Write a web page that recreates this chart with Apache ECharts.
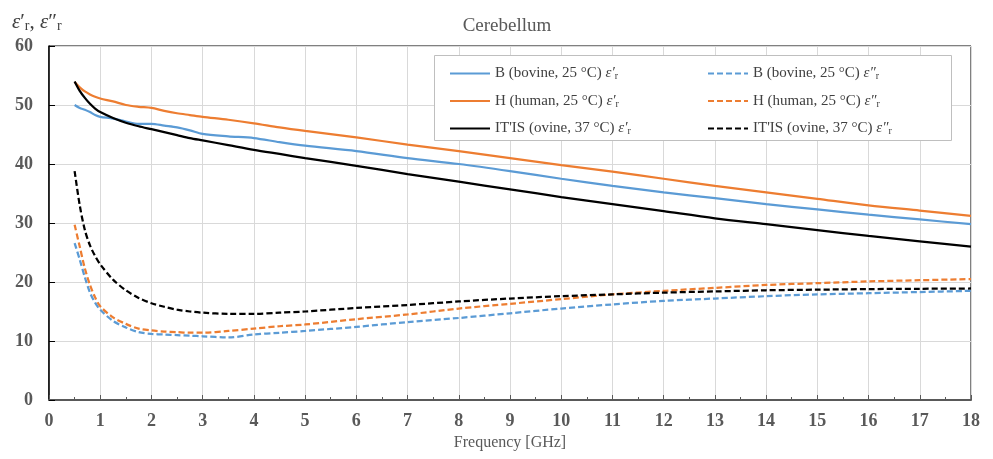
<!DOCTYPE html>
<html><head><meta charset="utf-8">
<script src="https://cdn.jsdelivr.net/npm/echarts@6/dist/echarts.min.js"></script>
<style>html,body{margin:0;padding:0;background:#fff}#c{width:993px;height:459px}</style>
</head><body><div id="c"></div>
<script>
const freq = [0.5,0.6,0.7,0.8,0.9,1,1.25,1.5,1.75,2,2.25,2.5,2.75,3,3.5,4,4.5,5,6,7,8,9,10,11,12,13,14,15,16,17,18];
const bReal = [50.0,49.5,49.2,48.8,48.3,48.0,47.7,47.2,46.8,46.8,46.5,46.2,45.7,45.1,44.7,44.4,43.7,43.1,42.2,41.0,40.0,38.8,37.5,36.3,35.2,34.2,33.2,32.3,31.4,30.6,29.8];
const hReal = [53.9,53.0,52.3,51.8,51.4,51.1,50.6,50.0,49.7,49.5,49.0,48.6,48.3,48.0,47.5,46.9,46.2,45.6,44.5,43.3,42.2,41.0,39.8,38.7,37.5,36.3,35.2,34.1,33.0,32.1,31.2];
const iReal = [54.0,52.4,51.2,50.2,49.4,48.8,47.8,47.0,46.4,45.9,45.4,44.9,44.4,44.0,43.2,42.4,41.7,41.0,39.7,38.3,37.0,35.7,34.4,33.2,32.0,30.8,29.8,28.8,27.8,26.9,26.0];
const bImag = [26.6,23.8,20.8,18.2,16.5,15.3,13.4,12.3,11.5,11.2,11.1,11.0,10.9,10.8,10.6,11.1,11.4,11.7,12.4,13.2,13.9,14.7,15.5,16.2,16.8,17.2,17.6,17.9,18.1,18.3,18.5];
const hImag = [29.7,26.0,22.3,19.5,17.4,15.9,14.0,12.9,12.1,11.8,11.6,11.5,11.4,11.4,11.7,12.1,12.5,12.8,13.7,14.5,15.5,16.3,17.1,17.9,18.5,19.0,19.5,19.8,20.1,20.3,20.5];
const iImag = [38.8,33.0,28.8,26.2,24.4,23.0,20.4,18.6,17.3,16.4,15.8,15.3,15.0,14.8,14.6,14.6,14.8,15.0,15.6,16.1,16.7,17.2,17.6,17.9,18.2,18.4,18.6,18.7,18.8,18.85,18.9];
const xTicks = [0,1,2,3,4,5,6,7,8,9,10,11,12,13,14,15,16,17,18];
const yTicks = [0,10,20,30,40,50,60];
const names = [
  'B (bovine, 25 °C) ε′', 'H (human, 25 °C) ε′', 'IT\'IS (ovine, 37 °C) ε′',
  'B (bovine, 25 °C) ε″', 'H (human, 25 °C) ε″', 'IT\'IS (ovine, 37 °C) ε″'
];
const BLUE = '#5B9BD5', ORANGE = '#ED7D31', BLACK = '#000000';
const SERIF = '"Liberation Serif","DejaVu Serif",serif';
function pts(ys){ return freq.map((f,i)=>[f, ys[i]]); }
function mk(name, ys, color, dashed){
  return {name, type:'line', data:pts(ys), symbol:'none', showSymbol:false, smooth:0.3, z: dashed?3:4,
    lineStyle:{color, width:2.25, type: dashed?[6,3]:'solid'}, itemStyle:{color}};
}
const rich = {
  t:{fontFamily:SERIF, fontSize:15, color:'#404040'},
  e:{fontFamily:SERIF, fontSize:15, fontStyle:'italic', color:'#404040'},
  s:{fontFamily:SERIF, fontSize:10, color:'#404040', verticalAlign:'bottom', padding:[6,0,0,0]}
};
function fmt(n){
  const base = n.slice(0, n.length-2);
  const sym = n.slice(n.length-2);
  return '{t|' + base + '}{e|' + sym + '}{s|r}';
}
const legendCommon = {orient:'vertical', top:61, itemWidth:40, itemHeight:12, itemGap:12,
  itemStyle:{opacity:0}, formatter:fmt, textStyle:{rich, fontFamily:SERIF, fontSize:15}, z:20};
const chart = echarts.init(document.getElementById('c'));
chart.setOption({
  animation:false,
  backgroundColor:'#fff',
  title:[{text:'Cerebellum', left:502, top:12, textAlign:'center',
    textStyle:{fontFamily:SERIF, fontSize:19, fontWeight:'normal', color:'#595959'}}],
  graphic:[{type:'rect', shape:{x:434.5, y:55.5, width:517, height:85},
    style:{fill:'#fff', stroke:'#bfbfbf', lineWidth:1}, z:10}],
  legend:[
    Object.assign({data:names.slice(0,3), left:444}, legendCommon),
    Object.assign({data:names.slice(3), left:702}, legendCommon)
  ],
  grid:{left:49, right:22, top:46, bottom:59, show:true, borderColor:'#000', borderWidth:1, backgroundColor:'transparent'},
  xAxis:{type:'value', min:0, max:18, interval:1,
    name:'Frequency [GHz]', nameLocation:'middle', nameGap:34,
    nameTextStyle:{fontFamily:SERIF, fontSize:16, color:'#595959'},
    axisLine:{show:true, onZero:false, lineStyle:{color:'#595959', width:2}},
    axisTick:{show:true, inside:true, length:5, lineStyle:{color:'#595959'}},
    minorTick:{show:true, splitNumber:2, length:3, lineStyle:{color:'#595959'}},
    axisLabel:{fontFamily:SERIF, fontSize:18, fontWeight:'bold', color:'#595959', margin:12,
      formatter:v=> xTicks.includes(v)? String(v):''},
    splitLine:{show:true, lineStyle:{color:'#d9d9d9', width:1}}
  },
  yAxis:{type:'value', min:0, max:60, interval:10,
    name:'{e|ε}{t|′}{s|r}{t|, }{e|ε}{t|″}{s|r}', nameLocation:'end', nameGap:13,
    nameTextStyle:{align:'left', padding:[0,0,0,-37], rich:{
      e:{fontFamily:SERIF, fontSize:21, fontStyle:'italic', color:'#404040'},
      t:{fontFamily:SERIF, fontSize:21, color:'#404040'},
      s:{fontFamily:SERIF, fontSize:14, color:'#404040', verticalAlign:'bottom', padding:[8,0,0,0]}}},
    axisLine:{show:true, lineStyle:{color:'#000', width:1.5}},
    axisTick:{show:true, inside:true, length:6, lineStyle:{color:'#000'}},
    axisLabel:{fontFamily:SERIF, fontSize:18, fontWeight:'bold', color:'#595959', margin:16,
      formatter:v=> yTicks.includes(v)? String(v):''},
    splitLine:{show:true, lineStyle:{color:'#d9d9d9', width:1}}
  },
  series:[
    mk(names[0], bReal, BLUE, false),
    mk(names[1], hReal, ORANGE, false),
    mk(names[2], iReal, BLACK, false),
    mk(names[3], bImag, BLUE, true),
    mk(names[4], hImag, ORANGE, true),
    mk(names[5], iImag, BLACK, true)
  ]
});
</script></body></html>
